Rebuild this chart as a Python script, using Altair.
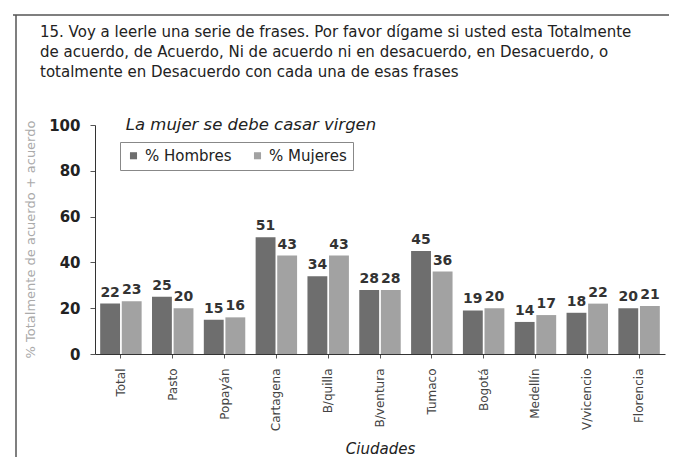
import altair as alt
import pandas as pd

ciudades = ["Total", "Pasto", "Popayán", "Cartagena", "B/quilla", "B/ventura",
            "Tumaco", "Bogotá", "Medellín", "V/vicencio", "Florencia"]
hombres = [22, 25, 15, 51, 34, 28, 45, 19, 14, 18, 20]
mujeres = [23, 20, 16, 43, 43, 28, 36, 20, 17, 22, 21]
series = ["% Hombres", "% Mujeres"]
colores = ["#6e6e6e", "#a2a2a2"]

titulo = ("15. Voy a leerle una serie de frases. Por favor dígame si usted esta Totalmente\n"
          "de acuerdo, de Acuerdo, Ni de acuerdo ni en desacuerdo, en Desacuerdo, o\n"
          "totalmente en Desacuerdo con cada una de esas frases")
subtitulo = "La mujer se debe casar virgen"

rows = []
for c, h, m in zip(ciudades, hombres, mujeres):
    rows.append({"Ciudad": c, "Serie": series[0], "Valor": h})
    rows.append({"Ciudad": c, "Serie": series[1], "Valor": m})
df = pd.DataFrame(rows)

FONT = "DejaVu Sans"
W, H = 570, 229

x_enc = alt.X(
    "Ciudad:N", sort=ciudades,
    scale=alt.Scale(paddingInner=0.2, paddingOuter=0.1),
    axis=alt.Axis(title="Ciudades", labelAngle=-90, labelFontSize=12, labelColor="#444",
                  labelFont=FONT, labelPadding=10, tickSize=4, tickColor="#555",
                  domainColor="#333", titleFont=FONT, titleFontStyle="italic",
                  titleFontSize=15, titleFontWeight="normal", titleColor="#222",
                  titleY=94, titleBaseline="middle"),
)
y_enc = alt.Y(
    "Valor:Q", scale=alt.Scale(domain=[0, 100]),
    axis=alt.Axis(values=[0, 20, 40, 60, 80, 100], grid=False, title="% Totalmente de acuerdo + acuerdo",
                  labelFont=FONT, labelFontSize=15, labelFontWeight="bold", labelColor="#222",
                  labelPadding=10, tickSize=5, tickColor="#555", domainColor="#333",
                  titleFont=FONT, titleFontSize=13, titleFontWeight="normal", titleColor="#aaaaaa",
                  titleX=-65, titleY=114, titleAlign="center", titleBaseline="middle", titleAngle=-90),
)
xo = alt.XOffset("Serie:N", sort=series, scale=alt.Scale(paddingInner=0.08))

bars = alt.Chart(df).mark_bar().encode(
    x=x_enc, y=y_enc, xOffset=xo,
    color=alt.Color("Serie:N", sort=series, scale=alt.Scale(domain=series, range=colores),
                    legend=alt.Legend(title=None, orient="none", legendX=25, legendY=17,
                                      direction="horizontal", strokeColor="#888", padding=6,
                                      symbolType="square", symbolSize=50, labelFont=FONT,
                                      labelFontSize=15, labelColor="#222", columnPadding=18,
                                      symbolStrokeWidth=0)),
)

labels = alt.Chart(df).mark_text(font=FONT, fontSize=14, fontWeight="bold", color="#333",
                                 baseline="bottom", dy=-4).encode(
    x=alt.X("Ciudad:N", sort=ciudades), y="Valor:Q", xOffset=xo, text="Valor:Q",
)

sub = alt.Chart(pd.DataFrame({"t": [subtitulo]})).mark_text(
    font=FONT, fontSize=16.5, fontStyle="italic", color="#222", baseline="middle", align="center"
).encode(x=alt.value(156), y=alt.value(0), text="t:N")

head = alt.Chart(pd.DataFrame({"t": [titulo]})).mark_text(
    font=FONT, fontSize=15, color="#222", baseline="alphabetic", align="left",
    lineBreak="\n", lineHeight=20
).encode(x=alt.value(-55), y=alt.value(-88), text="t:N")

frame_left = alt.Chart(pd.DataFrame({"a": [0]})).mark_rule(color="#555", strokeWidth=1.5).encode(
    x=alt.value(-79), y=alt.value(-110), y2=alt.value(340))
frame_top = alt.Chart(pd.DataFrame({"a": [0]})).mark_rule(color="#555", strokeWidth=1.5).encode(
    x=alt.value(-82), x2=alt.value(600), y=alt.value(-110))

chart = alt.layer(bars, labels, sub, head, frame_left, frame_top).properties(
    width=W, height=H,
    autosize=alt.AutoSizeParams(type="none"),
    padding={"left": 87, "top": 117, "right": 4, "bottom": 103},
).configure(background="white").configure_view(stroke="transparent", strokeWidth=0)

chart.save("out.html", embed_options={"renderer": "svg", "actions": False})
